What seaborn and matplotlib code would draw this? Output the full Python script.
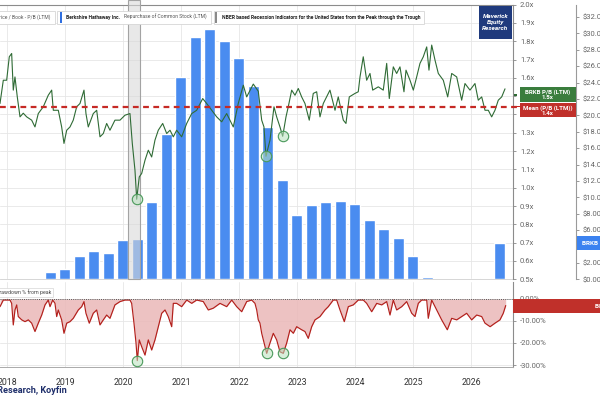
import numpy as np
import matplotlib
matplotlib.use("Agg")
import matplotlib.pyplot as plt
from matplotlib.patches import Rectangle
import seaborn as sns

# ---------------- data ----------------
pb_years = [2017.871, 2017.928, 2017.986, 2018.031, 2018.072, 2018.100, 2018.129, 2018.169, 2018.216, 2018.272,
            2018.331, 2018.417, 2018.474, 2018.531, 2018.617, 2018.703, 2018.762, 2018.790, 2018.876, 2018.934,
            2018.974, 2019.021, 2019.078, 2019.134, 2019.193, 2019.250, 2019.319, 2019.353, 2019.393, 2019.479,
            2019.538, 2019.595, 2019.652, 2019.710, 2019.767, 2019.853, 2019.940, 2020.026, 2020.112, 2020.152,
            2020.198, 2020.228, 2020.272, 2020.314, 2020.371, 2020.428, 2020.486, 2020.543, 2020.600, 2020.676,
            2020.745, 2020.802, 2020.859, 2020.917, 2021.003, 2021.090, 2021.176, 2021.262, 2021.366, 2021.434,
            2021.521, 2021.607, 2021.693, 2021.779, 2021.893, 2021.979, 2022.066, 2022.124, 2022.238, 2022.324,
            2022.383, 2022.422, 2022.457, 2022.526, 2022.595, 2022.641, 2022.698, 2022.745, 2022.802, 2022.841,
            2022.900, 2022.957, 2023.014, 2023.072, 2023.129, 2023.203, 2023.272, 2023.331, 2023.388, 2023.445,
            2023.560, 2023.647, 2023.703, 2023.790, 2023.836, 2023.893, 2023.991, 2024.048, 2024.078, 2024.134,
            2024.193, 2024.250, 2024.297, 2024.393, 2024.479, 2024.538, 2024.583, 2024.652, 2024.710, 2024.767,
            2024.836, 2024.871, 2024.940, 2024.997, 2025.055, 2025.112, 2025.169, 2025.228, 2025.267, 2025.314,
            2025.371, 2025.428, 2025.514, 2025.590, 2025.659, 2025.745, 2025.831, 2025.888, 2025.974, 2026.060,
            2026.117, 2026.176, 2026.233, 2026.290, 2026.348, 2026.405, 2026.462, 2026.521, 2026.578]
pb_values = [1.460, 1.587, 1.587, 1.715, 1.733, 1.533, 1.605, 1.496, 1.387, 1.407,
             1.387, 1.369, 1.332, 1.405, 1.442, 1.505, 1.533, 1.423, 1.423, 1.332,
             1.242, 1.314, 1.332, 1.369, 1.442, 1.460, 1.533, 1.405, 1.332, 1.405,
             1.423, 1.278, 1.296, 1.351, 1.314, 1.369, 1.369, 1.396, 1.405, 1.242,
             1.096, 0.937, 1.059, 1.078, 1.150, 1.205, 1.168, 1.260, 1.314, 1.351,
             1.296, 1.314, 1.278, 1.314, 1.278, 1.351, 1.405, 1.423, 1.487, 1.460,
             1.423, 1.387, 1.360, 1.405, 1.332, 1.460, 1.560, 1.496, 1.566, 1.527,
             1.369, 1.332, 1.172, 1.260, 1.442, 1.387, 1.332, 1.281, 1.387, 1.442,
             1.533, 1.505, 1.542, 1.496, 1.460, 1.369, 1.515, 1.524, 1.387, 1.460,
             1.533, 1.423, 1.496, 1.369, 1.351, 1.496, 1.515, 1.524, 1.605, 1.715,
             1.587, 1.624, 1.533, 1.551, 1.533, 1.679, 1.487, 1.660, 1.624, 1.660,
             1.524, 1.642, 1.587, 1.533, 1.605, 1.679, 1.715, 1.769, 1.642, 1.779,
             1.697, 1.624, 1.587, 1.496, 1.624, 1.605, 1.478, 1.569, 1.533, 1.569,
             1.478, 1.496, 1.423, 1.423, 1.387, 1.423, 1.478, 1.496, 1.540]
pb_mean = 1.44

# quarterly LTM repurchases, $ billions
repurchase_dates = list(2018.74 + 0.25 * np.arange(32))
repurchase_bn = [0.85, 1.29, 2.88, 3.45, 3.21, 4.79, 4.95, 9.39, 17.72, 24.67,
                 29.51, 30.50, 29.10, 26.99, 23.57, 18.61, 12.07, 7.80, 9.06, 9.43,
                 9.51, 9.15, 7.23, 6.17, 5.04, 2.84, 0.32, 0.0, 0.0, 0.0,
                 0.20, 4.43]

dd_years = [2017.871, 2017.928, 2018.043, 2018.072, 2018.100, 2018.129, 2018.159, 2018.186, 2018.245, 2018.302,
            2018.359, 2018.417, 2018.474, 2018.531, 2018.590, 2018.647, 2018.703, 2018.733, 2018.779, 2018.819,
            2018.848, 2018.876, 2018.934, 2018.974, 2019.021, 2019.078, 2019.134, 2019.221, 2019.279, 2019.319,
            2019.353, 2019.410, 2019.479, 2019.538, 2019.595, 2019.652, 2019.710, 2019.767, 2019.853, 2019.940,
            2020.026, 2020.112, 2020.141, 2020.181, 2020.216, 2020.238, 2020.272, 2020.314, 2020.371, 2020.428,
            2020.486, 2020.543, 2020.600, 2020.659, 2020.716, 2020.772, 2020.831, 2020.859, 2020.917, 2021.003,
            2021.090, 2021.176, 2021.262, 2021.376, 2021.462, 2021.548, 2021.664, 2021.779, 2021.866, 2021.952,
            2022.038, 2022.124, 2022.210, 2022.267, 2022.297, 2022.324, 2022.353, 2022.383, 2022.440, 2022.469,
            2022.526, 2022.583, 2022.641, 2022.698, 2022.755, 2022.814, 2022.871, 2022.928, 2022.986, 2023.072,
            2023.129, 2023.186, 2023.245, 2023.302, 2023.388, 2023.474, 2023.531, 2023.617, 2023.676, 2023.733,
            2023.807, 2023.876, 2023.962, 2024.048, 2024.134, 2024.193, 2024.279, 2024.366, 2024.452, 2024.538,
            2024.595, 2024.652, 2024.710, 2024.797, 2024.883, 2024.969, 2025.026, 2025.083, 2025.141, 2025.228,
            2025.255, 2025.314, 2025.400, 2025.486, 2025.583, 2025.659, 2025.745, 2025.831, 2025.917, 2026.003,
            2026.090, 2026.176, 2026.233, 2026.321, 2026.405, 2026.491, 2026.548, 2026.590]
dd_values = [-3.5, -0.5, -0.5, -2.0, -11.8, -5.0, -2.7, -8.0, -9.5, -10.3,
             -9.5, -11.0, -14.8, -11.0, -7.3, -2.7, -0.5, -3.5, -0.5, -2.0,
             -8.0, -5.0, -9.5, -15.6, -11.0, -10.3, -8.8, -5.0, -3.5, -1.2,
             -6.5, -11.0, -6.5, -5.0, -11.8, -9.5, -7.3, -8.8, -2.7, -1.2,
             -0.5, -0.5, -2.0, -11.0, -20.0, -28.0, -18.6, -21.7, -25.5, -18.6,
             -23.2, -18.6, -12.6, -6.5, -5.0, -8.0, -12.6, -2.0, -2.0, -3.5,
             -0.5, -2.0, -0.5, -1.2, -5.0, -4.2, -2.0, -3.5, -0.5, -3.5,
             -5.8, -1.2, -0.5, -2.0, -5.0, -9.5, -11.0, -15.6, -21.7, -24.7,
             -20.0, -15.6, -18.6, -24.0, -24.7, -20.0, -14.0, -15.6, -12.6, -14.0,
             -14.8, -17.9, -12.6, -9.5, -8.0, -5.0, -3.5, -0.5, -0.5, -5.0,
             -10.3, -3.5, -2.7, -0.5, -0.5, -2.0, -5.8, -2.0, -2.7, -1.2,
             -7.3, -0.5, -5.0, -3.5, -1.2, -6.5, -8.0, -2.0, -0.5, -0.5,
             -8.8, -0.5, -5.0, -9.5, -14.0, -8.8, -9.5, -8.0, -6.5, -9.5,
             -7.3, -8.0, -11.0, -12.6, -11.0, -9.5, -6.5, -3.0]

recession_start, recession_end = 2020.08, 2020.29
trough_dates_pb = [2020.228, 2022.457, 2022.745]
trough_dates_dd = [2020.238, 2022.469, 2022.755]

year_ticks = list(range(2018, 2027))
pb_ticks = [0.5, 0.6, 0.7, 0.8, 0.9, 1.0, 1.1, 1.2, 1.3, 1.4, 1.5, 1.6, 1.7, 1.8, 1.9, 2.0]
usd_ticks = list(range(0, 33, 2))
dd_ticks = [0, -10, -20, -30]

# ---------------- style ----------------
sns.set_theme(style="white")
plt.rcParams["font.family"] = ["Roboto", "DejaVu Sans"]

W, H = 600, 400
fig = plt.figure(figsize=(6, 4), dpi=100)
fig.patch.set_facecolor("white")

def fx(px):
    return px / W

def fy(py):
    return 1 - py / H

X0 = 2017.871
PX_PER_YEAR = 58.0
AX_RIGHT = 513.0
XLIM = (X0, X0 + AX_RIGHT / PX_PER_YEAR)

TOP_Y0, TOP_Y1 = 4.6, 279.3
BOT_Y0, BOT_Y1 = 282.0, 366.7

GRID = "#e6e6e6"
TICKC = "#666666"
GREEN = "#2f6b35"
RED = "#c62a25"
BLUE = "#4a8cf0"

# ---- top panel: grid axes ----
ax_g = fig.add_axes([0, fy(TOP_Y1), fx(AX_RIGHT), (TOP_Y1 - TOP_Y0) / H])
ax_g.set_xlim(XLIM)
ax_g.set_ylim(0.5, 2.0)
ax_g.set_yticks(pb_ticks)
ax_g.set_xticks(year_ticks)
ax_g.grid(True, color=GRID, lw=0.6)
ax_g.tick_params(left=False, labelleft=False, bottom=False, labelbottom=False,
                 right=False, labelright=False)
for s in ["left", "right"]:
    ax_g.spines[s].set_visible(False)
ax_g.spines["top"].set_color("#8c8c8c")
ax_g.spines["top"].set_linewidth(0.8)
ax_g.spines["bottom"].set_color("#d0d0d0")
ax_g.spines["bottom"].set_linewidth(0.6)

# ---- bars axis ($) ----
axb = ax_g.twinx()
axb.set_ylim(0, 33.5)
axb.set_xlim(XLIM)
axb.bar(repurchase_dates, repurchase_bn, width=0.19, color=BLUE, zorder=1)
axb.axvspan(recession_start, recession_end, ymin=0, ymax=1.017,
            facecolor=(0.85, 0.85, 0.85, 0.6), edgecolor="#a3a3a3", lw=0.8,
            zorder=3, clip_on=False)
axb.spines["right"].set_position(("axes", 575.7 / AX_RIGHT))
for s in ["left", "top", "bottom"]:
    axb.spines[s].set_visible(False)
axb.spines["right"].set_color("#9a9a9a")
axb.spines["right"].set_linewidth(0.8)
axb.set_yticks(usd_ticks)
axb.set_yticklabels([f"${v:.2f}B" for v in usd_ticks])
axb.tick_params(axis="y", right=True, labelright=True, length=2, width=0.6,
                color="#888888", labelsize=5.5, labelcolor=TICKC, pad=3)
axb.tick_params(axis="x", bottom=False, labelbottom=False)
axb.grid(False)

# ---- P/B line axis ----
ax1 = ax_g.twinx()
ax1.set_ylim(0.5, 2.0)
ax1.set_xlim(XLIM)
ax1.patch.set_visible(False)
sns.lineplot(x=np.array(pb_years), y=np.array(pb_values), ax=ax1, color=GREEN, lw=0.8, zorder=4)
ax1.axhline(pb_mean, xmin=0, xmax=520 / AX_RIGHT, color=RED, lw=1.6, ls=(0, (2.6, 2.0)),
            zorder=5, clip_on=False)
ax1.plot(trough_dates_pb, np.interp(trough_dates_pb, pb_years, pb_values), "o", ms=7.5,
         mfc=(0.72, 0.88, 0.74, 0.55), mec="#4b9a5b", mew=0.8, zorder=6)
ax1.set_yticks(pb_ticks)
ax1.set_yticklabels([f"{v:.1f}x" for v in pb_ticks])
ax1.tick_params(axis="y", right=True, labelright=True, left=False, labelleft=False,
                length=2, width=0.6, color="#888888", labelsize=5.5, labelcolor=TICKC, pad=3)
ax1.tick_params(axis="x", bottom=False, labelbottom=False)
for s in ["left", "top", "bottom"]:
    ax1.spines[s].set_visible(False)
ax1.spines["right"].set_color("#8c8c8c")
ax1.spines["right"].set_linewidth(0.8)
ax1.set_xlabel("")
ax1.set_ylabel("")
axb.set_ylabel("")
ax1.grid(False)

# ---- bottom panel: drawdown ----
ax2 = fig.add_axes([0, fy(BOT_Y1), fx(AX_RIGHT), (BOT_Y1 - BOT_Y0) / H])
ax2.set_xlim(XLIM)
ax2.set_ylim(-30.77, 7.7)
ax2.fill_between(dd_years, dd_values, 0, color="#eab8b8", alpha=0.85, lw=0, zorder=2)
sns.lineplot(x=np.array(dd_years), y=np.array(dd_values), ax=ax2, color="#b3201c", lw=0.85, zorder=3)
ax2.axhline(0, color="#555555", lw=0.7, ls=(0, (1, 1.2)), zorder=4)
ax2.plot(trough_dates_dd, np.interp(trough_dates_dd, dd_years, dd_values), "o", ms=7.5,
         mfc=(0.72, 0.88, 0.74, 0.55), mec="#4b9a5b", mew=0.8, zorder=6)
ax2.yaxis.tick_right()
ax2.set_yticks(dd_ticks)
ax2.set_yticklabels([f"{v:.2f}%" for v in dd_ticks])
ax2.set_xticks(year_ticks)
ax2.set_xticklabels([str(y) for y in year_ticks])
ax2.grid(True, color=GRID, lw=0.6)
ax2.tick_params(axis="y", right=True, labelright=True, left=False, labelleft=False,
                length=2, width=0.6, color="#888888", labelsize=5.5, labelcolor=TICKC, pad=3)
ax2.tick_params(axis="x", length=0, labelsize=6.3, labelcolor="#333333", pad=8)
ax2.spines["left"].set_visible(False)
ax2.spines["top"].set_visible(False)
ax2.spines["right"].set_color("#8c8c8c")
ax2.spines["right"].set_linewidth(0.8)
ax2.spines["bottom"].set_color("#aaaaaa")
ax2.spines["bottom"].set_linewidth(0.7)
ax2.set_xlabel("")
ax2.set_ylabel("")

# ---------------- decorations (figure pixel coords) ----------------
def box(x0, y0, x1, y1, fc, ec="none", lw=0.0, z=10):
    fig.add_artist(Rectangle((fx(x0), fy(y1)), fx(x1) - fx(x0), (y1 - y0) / H,
                             transform=fig.transFigure, facecolor=fc, edgecolor=ec,
                             lw=lw, zorder=z, clip_on=False))

def txt(x, y, s, **kw):
    fig.text(fx(x), fy(y), s, zorder=12, **kw)

# legend strip
box(-5, 10.5, 55, 23.5, "white", "#d6d6d6", 0.6)
box(57, 10.5, 211, 23.5, "white", "#d6d6d6", 0.6)
box(214, 10.5, 424, 23.5, "white", "#d6d6d6", 0.6)
box(59.5, 12, 61.7, 22.5, "#2f6fe0")
box(215, 12, 217.4, 22.5, "#8a8a8a")
txt(50, 17.2, "Price / Book - P/B (LTM)", fontsize=3.6, color="#555555", ha="right", va="center")
txt(66, 17.2, "Berkshire Hathaway Inc.", fontsize=3.6, color="#222222", weight="bold", va="center")
txt(124, 17.2, "Repurchase of Common Stock (LTM)", fontsize=3.6, color="#555555", va="center")
txt(222, 17.2, "NBER based Recession Indicators for the United States from the Peak through the Trough",
    fontsize=3.6, color="#222222", weight="bold", va="center")

# Maverick badge
box(479, 5.7, 512, 39, "#1f3a7d")
txt(495.5, 22.5, "Maverick\nEquity\nResearch", fontsize=4.6, color="white", weight="bold",
    style="italic", ha="center", va="center", linespacing=1.35)

# right-side value labels (cover the 1.4x / 1.5x tick labels like the reference)
box(513.5, 94.2, 521, 95.6, GREEN, z=9)
box(517, 88, 520, 117, "white", z=9)
box(520, 87.3, 575.7, 102.0, "#3a7d3d")
txt(547.8, 94.7, "BRKB P/B (LTM)\n1.5x", fontsize=4.4, color="white", weight="bold",
    ha="center", va="center", linespacing=1.0)
box(520, 103.3, 575.7, 117.3, "#c0302a")
txt(547.8, 110.3, "Mean (P/B (LTM))\n1.4x", fontsize=4.4, color="white", weight="bold",
    ha="center", va="center", linespacing=1.0)
box(513.5, 106.0, 520, 107.4, RED, z=11)
box(577, 236, 605, 250, "#3b82f0")
txt(582, 243, "BRKB Repurchase", fontsize=4.6, color="white", weight="bold", va="center")
box(513, 299, 605, 313, "#c0302a")
txt(595, 306, "BRKB Drawdown", fontsize=4.6, color="white", weight="bold", va="center")

# drawdown panel caption
txt(51, 292.5, "Drawdown % from peak", fontsize=3.8, color="#444444", ha="right", va="center",
    bbox=dict(boxstyle="square,pad=0.35", fc="white", ec="#d6d6d6", lw=0.5))

# source
txt(66.5, 390.5, "Source: Maverick Equity Research, Koyfin", fontsize=6.6, color="#1f2f6b",
    weight="bold", ha="right", va="center")

fig.savefig("out.png", dpi=100)
